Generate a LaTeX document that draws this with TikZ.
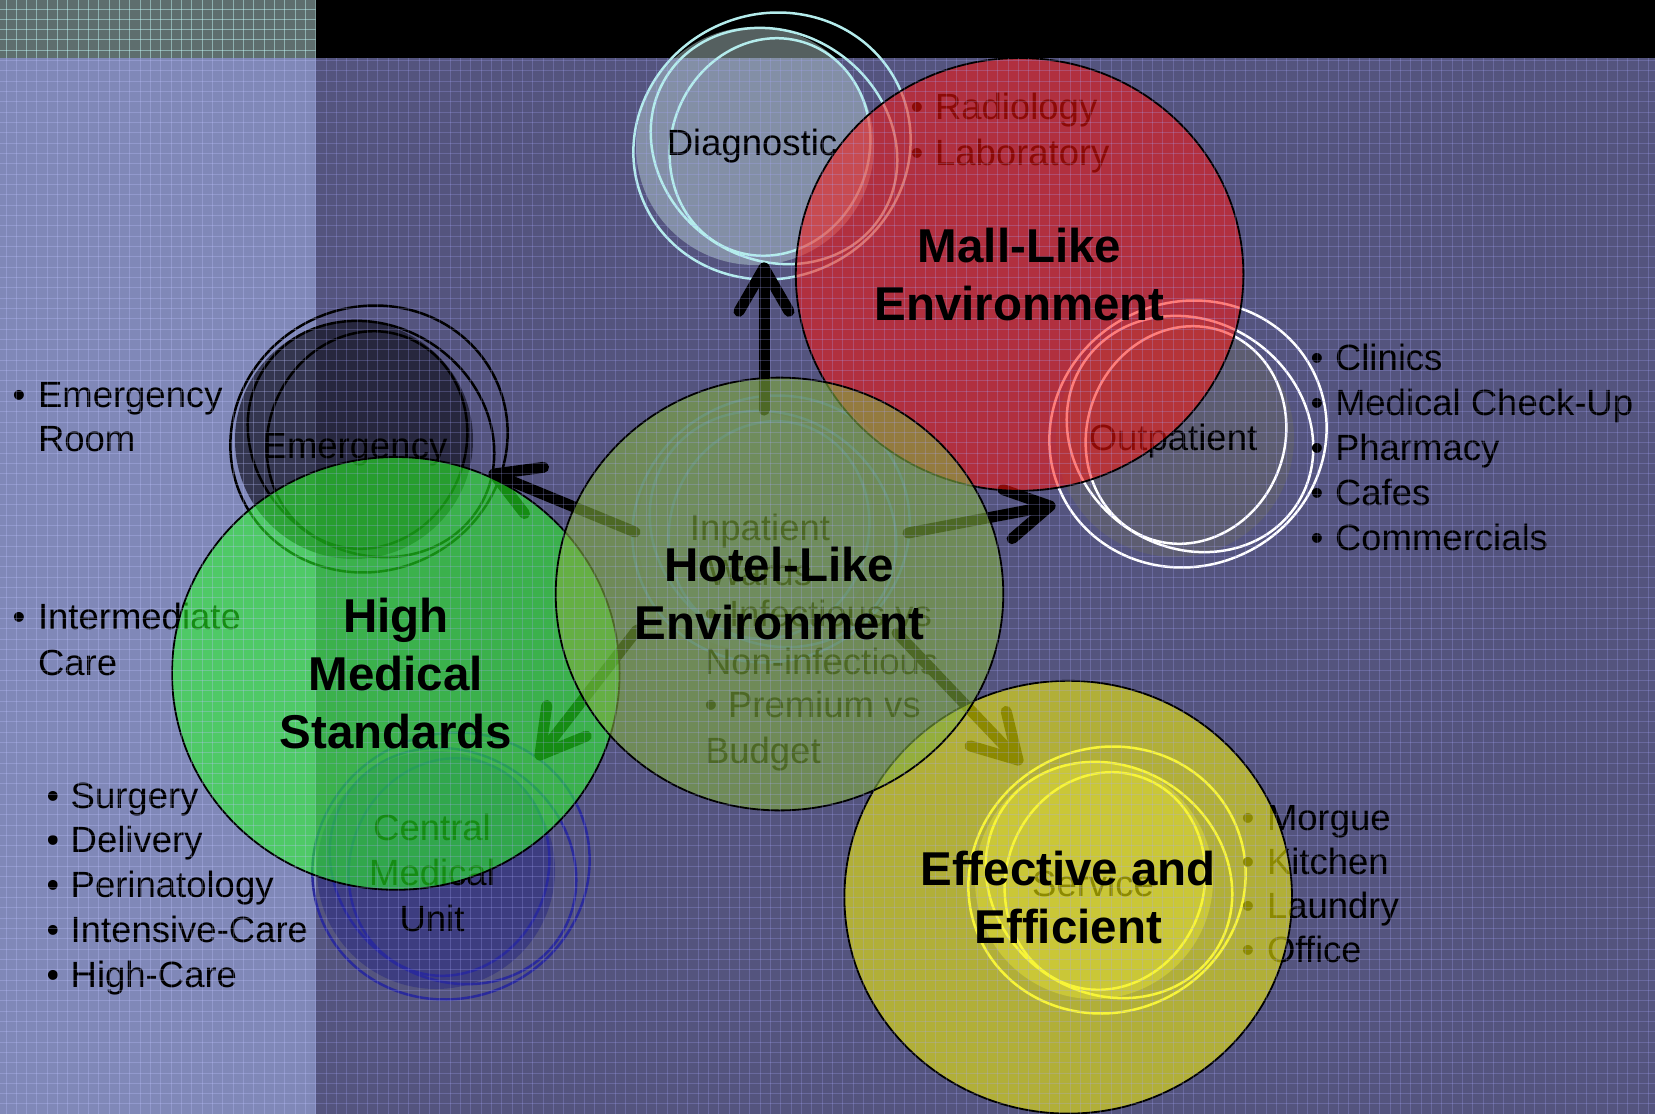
\documentclass[tikz,border=0pt]{standalone}
\usepackage{fontspec}
\setmainfont{Liberation Sans}
\usetikzlibrary{calc,shapes.geometric}
\definecolor{bgmain}{RGB}{84,84,126}
\definecolor{bgleft}{RGB}{128,136,184}
\definecolor{bgteal}{RGB}{94,110,110}
\definecolor{gridmain}{RGB}{170,170,255}
\definecolor{gridleft}{RGB}{190,195,255}
\definecolor{gridteal}{RGB}{200,255,255}
\definecolor{cred}{RGB}{255,20,12}
\definecolor{cgreen}{RGB}{40,255,35}
\definecolor{cyellow}{RGB}{255,250,0}
\definecolor{chotel}{RGB}{129,174,63}
\definecolor{diagfill}{RGB}{190,215,215}
\definecolor{diagring}{RGB}{180,236,236}
\definecolor{emfill}{RGB}{20,20,35}
\definecolor{outfill}{RGB}{100,100,105}
\definecolor{cenfill}{RGB}{40,40,130}
\definecolor{cenring}{RGB}{42,42,154}
\definecolor{serfill}{RGB}{240,240,120}
\definecolor{serring}{RGB}{240,240,122}
\definecolor{inpfill}{RGB}{90,110,170}
\definecolor{inpring}{RGB}{80,110,200}
\newcommand{\ringset}[3]{%
  \draw[ring,#3] (#1,#2) ellipse[x radius=140, y radius=132, rotate=25];
  \draw[ring,#3] (#1+2,#2) ellipse[x radius=128, y radius=113, rotate=-35];
  \draw[ring,#3] (#1-2,#2+1) ellipse[x radius=110, y radius=99, rotate=70];
}
\begin{document}
\begin{tikzpicture}[x=1pt,y=-1pt,
  txt/.style={font=\fontsize{36.5}{44}\selectfont, inner sep=0, outer sep=0},
  bl/.style={txt, anchor=base west},
  ct/.style={txt, anchor=base},
  big/.style={font=\fontsize{47.5}{58}\selectfont\bfseries, align=center, inner sep=0, outer sep=0},
  ring/.style={line width=2.5},
  subfill/.style={circle, minimum size=238, inner sep=0, outer sep=0},
  maincirc/.style={ellipse, minimum width=447.6, minimum height=432.8, inner sep=0, outer sep=0, draw=black, line width=1.8, fill opacity=0.55, draw opacity=1},
  gridline/.style={line width=1},
  arr/.style={line width=11, line cap=round, line join=round, black}]
\useasboundingbox (0,0) rectangle (1655,1114);
% background
\fill[bgteal] (0,0) rectangle (315.5,58);
\fill[black] (315.5,0) rectangle (1655,58);
\fill[bgleft] (0,58) rectangle (315.5,1114);
\fill[bgmain] (315.5,58) rectangle (1655,1114);

% sub diagrams (fills)
\node[subfill, fill=diagfill, fill opacity=0.45] (diag) at (755,146) {};
\node[subfill, fill=emfill, fill opacity=0.7] (emerg) at (354,440) {};
\node[subfill, fill=outfill, fill opacity=0.6] (outp) at (1175,438) {};
\node[subfill, fill=cenfill, fill opacity=0.5] (cmu) at (436,870) {};
\node[subfill, fill=serfill, fill opacity=0.35] (serv) at (1094,880) {};
\node[subfill, fill=inpfill, fill opacity=0.3] (inp) at (756,532) {};
% rings
\ringset{772}{146}{diagring}
\ringset{369}{439}{black}
\ringset{1188}{434}{white}
\ringset{451}{866}{cenring}
\ringset{1107}{880}{serring}
\ringset{771}{529}{inpring}

% sub-diagram labels
\node[ct] (diagt) at (752,155) {Diagnostic};
\node[ct] (emergt) at (355,458) {Emergency};
\node[ct] (outpt) at (1173,450) {Outpatient};
\node[ct] (cmu1) at (432,840) {Central};
\node[ct] (cmu2) at (432,885) {Medical};
\node[ct] (cmu3) at (432,931) {Unit};
\node[ct] (servt) at (1093,896) {Service};
\node[ct] (inp1) at (760,540) {Inpatient};
\node[ct] (inp2) at (760,585) {Wards};
\node[bl] (inpb1) at (704.6,626) {•};
\node[bl] (inp3) at (729,626) {Infectious vs};
\node[bl] (inp4) at (705,674) {Non-infectious};
\node[bl] (inpb2) at (704.6,717) {•};
\node[bl] (inp5) at (728,717) {Premium vs};
\node[bl] (inp6) at (705,763) {Budget};

% left column lists
\node[bl] (lb1) at (12.6,407) {•};
\node[bl] (l1) at (38,407) {Emergency};
\node[bl] (l1b) at (38,451) {Room};
\node[bl] (lb2) at (12.6,629) {•};
\node[bl] (l2) at (38,629) {Intermediate};
\node[bl] (l2b) at (38,675) {Care};
\foreach \t [count=\i] in {Surgery,Delivery,Perinatology,Intensive-Care,High-Care}{
  \node[bl] (sb\i) at (46.6,808+44.75*\i-44.75) {•};
  \node[bl] (s\i) at (70.7,808+44.75*\i-44.75) {\t};
}
% right lists
\foreach \t [count=\i] in {Clinics,Medical Check-Up,Pharmacy,Cafes,Commercials}{
  \node[bl] (ob\i) at (1310.6,370+45*\i-45) {•};
  \node[bl] (o\i) at (1335,370+45*\i-45) {\t};
}
\foreach \t [count=\i] in {Radiology,Laboratory}{
  \node[bl] (db\i) at (910.6,119.6+45.4*\i-45.4) {•};
  \node[bl] (d\i) at (935,119.6+45.4*\i-45.4) {\t};
}
\foreach \t [count=\i] in {Morgue,Kitchen,Laundry,Office}{
  \node[bl] (mb\i) at (1241.6,830+44.3*\i-44.3) {•};
  \node[bl] (m\i) at (1267,830+44.3*\i-44.3) {\t};
}

% arrows
\coordinate (a1s) at (764,410); \coordinate (a1t) at (764,268);
\coordinate (a2s) at (635,532); \coordinate (a2t) at (494,474);
\coordinate (a3s) at (908,533); \coordinate (a3t) at (1050,506);
\coordinate (a4s) at (637,630); \coordinate (a4t) at (540,755);
\coordinate (a5s) at (897,633); \coordinate (a5t) at (1018,760);
\foreach \k in {1,...,5}{
  \draw[arr] (a\k s) -- (a\k t);
  \draw[arr] ($(a\k t)!50pt!30:(a\k s)$) -- (a\k t) -- ($(a\k t)!50pt!-30:(a\k s)$);
}

% main circles
\node[maincirc, fill=cred] (mall) at (1019.6,274.4) {};
\node[maincirc, fill=cgreen] (high) at (395.8,673.4) {};
\node[maincirc, fill=cyellow] (eff) at (1068.2,897.2) {};
\node[maincirc, fill=chotel, fill opacity=0.6] (hotel) at (779.5,594) {};

% grid
\begin{scope}
  \clip (0,0) rectangle (315.5,58);
  \foreach \i in {0,...,31} \draw[gridline, gridteal, opacity=0.45] (6+10.33*\i,0) -- (6+10.33*\i,58);
  \foreach \j in {0,...,6} \draw[gridline, gridteal, opacity=0.45] (0,9+10.33*\j) -- (315.5,9+10.33*\j);
\end{scope}
\begin{scope}
  \clip (0,58) rectangle (315.5,1114);
  \foreach \i in {0,...,31} \draw[gridline, gridleft, opacity=0.3] (6+10.33*\i,58) -- (6+10.33*\i,1114);
  \foreach \j in {5,...,108} \draw[gridline, gridleft, opacity=0.3] (0,9+10.33*\j) -- (315.5,9+10.33*\j);
\end{scope}
\begin{scope}
  \clip (315.5,58) rectangle (1655,1114);
  \foreach \i in {30,...,160} \draw[gridline, gridmain, opacity=0.25] (6+10.33*\i,58) -- (6+10.33*\i,1114);
  \foreach \j in {5,...,108} \draw[gridline, gridmain, opacity=0.25] (315.5,9+10.33*\j) -- (1655,9+10.33*\j);
\end{scope}

% main labels
\node[big] (mallt) at (mall.center) {Mall-Like\\Environment};
\node[big] (hight) at (high.center) {High\\Medical\\Standards};
\node[big] (efft) at (eff.center) {Effective and\\Efficient};
\node[big] (hotelt) at (hotel.center) {Hotel-Like\\Environment};
\end{tikzpicture}
\end{document}
